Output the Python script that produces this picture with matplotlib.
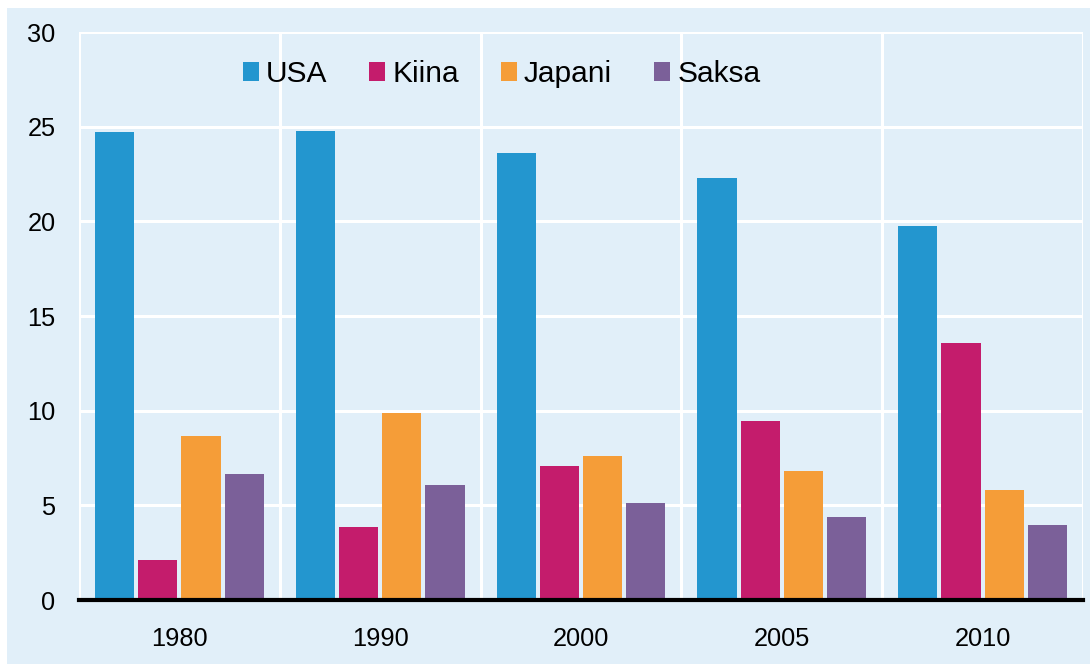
import matplotlib
matplotlib.use("Agg")
import matplotlib.pyplot as plt
import numpy as np
from matplotlib.patches import Rectangle

years = ["1980", "1990", "2000", "2005", "2010"]
series_names = ["USA", "Kiina", "Japani", "Saksa"]
usa = [24.7, 24.75, 23.6, 22.3, 19.75]
kiina = [2.1, 3.85, 7.1, 9.45, 13.6]
japani = [8.65, 9.9, 7.6, 6.8, 5.8]
saksa = [6.65, 6.1, 5.1, 4.4, 3.95]
colors = ["#2396cf", "#c41c6c", "#f59d38", "#7b6099"]
yticks = [0, 5, 10, 15, 20, 25, 30]

plt.rcParams['font.family'] = ['Liberation Sans', 'DejaVu Sans']
W, H = 1090, 664
fig = plt.figure(figsize=(W / 100, H / 100), dpi=100, facecolor="white")
bg = "#e1eff9"
fig.patches.append(Rectangle((7 / W, 0), 1 - 7 / W, (H - 8) / H, transform=fig.transFigure,
                             facecolor=bg, edgecolor="none", zorder=-10))

ax = fig.add_axes([79 / W, 64 / H, (1083 - 79) / W, (600 - 32) / H])
ax.set_facecolor(bg)

x = np.arange(len(years))
data = [usa, kiina, japani, saksa]
step = 0.215
width = 0.195
for i, (name, vals, c) in enumerate(zip(series_names, data, colors)):
    ax.bar(x + (i - 1.5) * step, vals, width=width, color=c, label=name, zorder=3)

ax.set_xlim(-0.5, len(years) - 0.5)
ax.set_ylim(0, 30)
for yv in yticks[1:]:
    ax.axhline(yv, color="white", lw=2.2, zorder=1)
for xv in np.arange(-0.5, len(years), 1.0):
    ax.axvline(xv, color="white", lw=2.2, zorder=1)

for s in ["top", "right", "left"]:
    ax.spines[s].set_visible(False)
ax.spines["bottom"].set_linewidth(3)
ax.spines["bottom"].set_color("black")
ax.spines["bottom"].set_zorder(5)

ax.set_yticks(yticks)
ax.set_yticklabels([str(v) for v in yticks], fontsize=18.3)
ax.set_xticks(x)
ax.set_xticklabels(years, fontsize=18.3)
ax.tick_params(axis="y", length=0, pad=17)
ax.tick_params(axis="x", length=0, pad=19.5)

leg = ax.legend(loc="center left", bbox_to_anchor=((243 - 79) / 1004, (600 - 74) / 568),
                ncol=4, frameon=False, borderpad=0, borderaxespad=0,
                fontsize=21.5, handlelength=0.53, handleheight=0.6, handletextpad=0.23,
                columnspacing=1.42)

fig.savefig("out.png", dpi=100, facecolor="white")
